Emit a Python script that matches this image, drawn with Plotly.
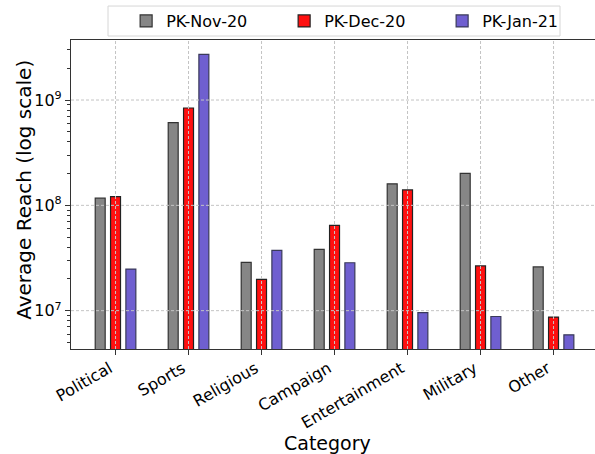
import plotly.graph_objects as go
import math

categories = ["Political", "Sports", "Religious", "Campaign", "Entertainment", "Military", "Other"]
series_names = ["PK-Nov-20", "PK-Dec-20", "PK-Jan-21"]
nov_20 = [1.17e8, 6.1e8, 2.88e7, 3.82e7, 1.60e8, 2.01e8, 2.60e7]
dec_20 = [1.21e8, 8.4e8, 1.98e7, 6.46e7, 1.40e8, 2.66e7, 8.7e6]
jan_21 = [2.48e7, 2.71e9, 3.74e7, 2.85e7, 9.6e6, 8.8e6, 5.9e6]
y_tick_vals = [1e7, 1e8, 1e9]
y_tick_text = ["10<sup>7</sup>", "10<sup>8</sup>", "10<sup>9</sup>"]

colors = ["#868686", "#ff1010", "#6f5fd0"]
edges = ["#333333", "#222222", "#3a3a5a"]
FONT = "DejaVu Sans"

x_idx = list(range(len(categories)))
fig = go.Figure()
for name, vals, c, e in zip(series_names, [nov_20, dec_20, jan_21], colors, edges):
    fig.add_trace(go.Bar(x=x_idx, y=vals, name=name,
                         marker=dict(color=c, line=dict(color=e, width=1.2))))

ylo, yhi = 6.636, 9.570
xlo, xhi = -0.61, 6.568
L, B, W, H = 71, 349.3, 524, 309.3

def px_x(p):
    return (p - L) / W

def px_y(p):
    return (B - p) / H

shapes = []
for i in x_idx:
    shapes.append(dict(type="line", xref="x", yref="paper", x0=i, x1=i, y0=0, y1=1,
                       layer="above", line=dict(color="#c4c4c4", width=1, dash="3px,2px")))
for v in y_tick_vals:
    p = (math.log10(v) - ylo) / (yhi - ylo)
    shapes.append(dict(type="line", xref="paper", yref="paper", x0=0, x1=1, y0=p, y1=p,
                       layer="above", line=dict(color="#c4c4c4", width=1, dash="3px,2px")))
# legend frame
shapes.append(dict(type="rect", xref="paper", yref="paper",
                   x0=px_x(108), x1=px_x(560), y0=px_y(36), y1=px_y(6),
                   line=dict(color="#d6d6d6", width=1), fillcolor="white", layer="below"))

fig.update_layout(
    width=595, height=454,
    margin=dict(l=L, r=0, t=40, b=105, autoexpand=False),
    paper_bgcolor="white", plot_bgcolor="white",
    font=dict(family=FONT, size=16, color="black"),
    barmode="group", bargap=0.37, bargroupgap=0.35,
    shapes=shapes,
    legend=dict(orientation="h", x=0.5575, xanchor="center", y=px_y(4), yanchor="top",
                borderwidth=0, bgcolor="rgba(0,0,0,0)", font=dict(size=16),
                entrywidth=113, entrywidthmode="pixels"),
    annotations=[
        dict(text="Category", xref="paper", yref="paper", x=0.49, y=-0.303,
             xanchor="center", yanchor="middle", showarrow=False, font=dict(size=19)),
        dict(text="Average Reach (log scale)", xref="paper", yref="paper",
             x=px_x(24), y=px_y(190), textangle=-90,
             xanchor="center", yanchor="middle", showarrow=False, font=dict(size=20)),
    ],
    xaxis=dict(range=[xlo, xhi], tickmode="array", tickvals=x_idx, ticktext=categories,
               tickangle=-30, ticks="outside", ticklen=5, tickcolor="#333",
               ticklabelshift=-6, ticklabelstandoff=-2,
               showline=True, linecolor="#333", linewidth=1.2, mirror=True,
               showgrid=False, zeroline=False, tickfont=dict(size=16)),
    yaxis=dict(type="log", range=[ylo, yhi], tickmode="array", tickvals=y_tick_vals,
               ticktext=y_tick_text, ticks="outside", ticklen=5, tickcolor="#333",
               showline=True, linecolor="#333", linewidth=1.2, mirror=False,
               showgrid=False, zeroline=False, tickfont=dict(size=16),
               minor=dict(ticks="outside", ticklen=3, tickcolor="#333", dtick="D1",
                          showgrid=False)),
)
fig.write_html("out.html", config={"displayModeBar": False},
               post_script="document.body.style.margin='0';")
